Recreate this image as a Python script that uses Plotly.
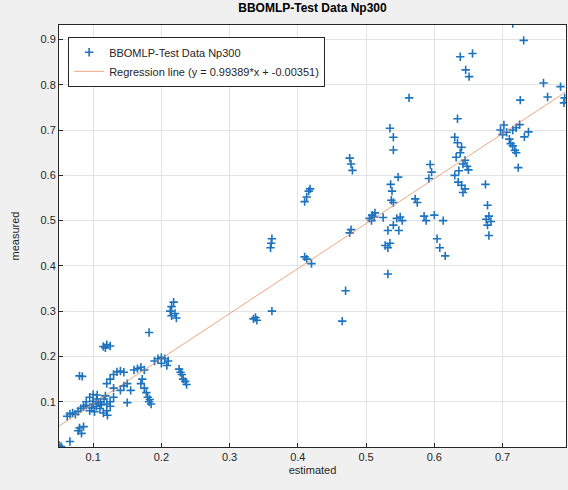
import plotly.graph_objects as go

title_text = "BBOMLP-Test Data Np300"
series_name = "BBOMLP-Test Data Np300"
line_name = "Regression line (y = 0.99389*x + -0.00351)"
slope = 0.99389
intercept = -0.00351

x_ticks = [0.1, 0.2, 0.3, 0.4, 0.5, 0.6, 0.7]
x_tick_labels = ["0.1", "0.2", "0.3", "0.4", "0.5", "0.6", "0.7"]
y_ticks = [0.1, 0.2, 0.3, 0.4, 0.5, 0.6, 0.7, 0.8, 0.9]
y_tick_labels = ["0.1", "0.2", "0.3", "0.4", "0.5", "0.6", "0.7", "0.8", "0.9"]

est_low = [0.050, 0.053, 0.066, 0.080, 0.083, 0.086, 0.078,
           0.062, 0.066, 0.070, 0.074, 0.078, 0.082, 0.086, 0.090,
           0.080, 0.084,
           0.090, 0.095, 0.100, 0.105, 0.100, 0.105, 0.110, 0.095, 0.120, 0.115, 0.120, 0.125,
           0.130, 0.125, 0.100, 0.106, 0.111, 0.116, 0.118, 0.121, 0.098, 0.102, 0.112, 0.108,
           0.115, 0.120, 0.125, 0.118,
           0.120, 0.125, 0.130, 0.135, 0.140, 0.145, 0.130, 0.140, 0.145, 0.150, 0.155, 0.150,
           0.160, 0.165, 0.170, 0.175, 0.170, 0.172, 0.175, 0.178, 0.180, 0.182, 0.185, 0.183,
           0.182,
           0.190, 0.195, 0.200, 0.205, 0.210, 0.200, 0.208,
           0.213, 0.215, 0.218, 0.220, 0.222, 0.215,
           0.226, 0.228, 0.230, 0.232, 0.235, 0.237]
meas_low = [0.004, 0.001, 0.012, 0.042, 0.030, 0.045, 0.036,
            0.068, 0.073, 0.075, 0.072, 0.079, 0.085, 0.089, 0.092,
            0.157, 0.156,
            0.100, 0.110, 0.116, 0.106, 0.095, 0.090, 0.085, 0.080, 0.080, 0.075, 0.095, 0.100,
            0.110, 0.090, 0.101, 0.115, 0.100, 0.106, 0.113, 0.070, 0.086, 0.078, 0.093, 0.098,
            0.222, 0.226, 0.223, 0.219,
            0.140, 0.150, 0.160, 0.166, 0.168, 0.165, 0.130, 0.125, 0.135, 0.140, 0.125, 0.098,
            0.170, 0.173, 0.176, 0.170, 0.140, 0.150, 0.130, 0.120, 0.110, 0.100, 0.095, 0.105,
            0.253,
            0.190, 0.195, 0.198, 0.195, 0.190, 0.185, 0.180,
            0.300, 0.310, 0.320, 0.295, 0.285, 0.290,
            0.172, 0.165, 0.160, 0.150, 0.145, 0.138]

est_mid = [0.335, 0.340, 0.338, 0.362, 0.360, 0.362, 0.361,
           0.410, 0.413, 0.420, 0.410, 0.413, 0.416, 0.418,
           0.465, 0.470, 0.476, 0.478, 0.476, 0.478, 0.480,
           0.505, 0.509, 0.512, 0.508, 0.513,
           0.525, 0.532, 0.528, 0.532, 0.535, 0.532,
           0.535, 0.540, 0.540, 0.536, 0.538, 0.537, 0.540, 0.547,
           0.545, 0.550, 0.553, 0.540, 0.548, 0.563, 0.572, 0.575,
           0.585, 0.588, 0.594, 0.596, 0.592, 0.600, 0.613, 0.604, 0.608, 0.616]
meas_mid = [0.283, 0.280, 0.286, 0.300, 0.440, 0.460, 0.450,
            0.420, 0.415, 0.405, 0.542, 0.552, 0.565, 0.570,
            0.278, 0.345, 0.473, 0.480, 0.638, 0.625, 0.611,
            0.505, 0.512, 0.508, 0.500, 0.517,
            0.507, 0.478, 0.445, 0.440, 0.450, 0.382,
            0.704, 0.684, 0.656, 0.580, 0.565, 0.545, 0.540, 0.596,
            0.505, 0.508, 0.500, 0.490, 0.478, 0.771, 0.548, 0.540,
            0.510, 0.500, 0.624, 0.607, 0.593, 0.512, 0.500, 0.460, 0.440, 0.422]

est_high = [0.634, 0.630, 0.634, 0.640, 0.638, 0.632, 0.645, 0.648, 0.636, 0.642, 0.650,
            0.635, 0.640, 0.645, 0.630, 0.642,
            0.638, 0.656, 0.646, 0.651,
            0.675, 0.678, 0.680, 0.676, 0.683, 0.678, 0.680,
            0.697, 0.702, 0.706, 0.700, 0.710, 0.712, 0.715, 0.718, 0.720, 0.715, 0.720, 0.725,
            0.723, 0.738, 0.732, 0.715, 0.731, 0.726, 0.760, 0.766, 0.785, 0.791, 0.790]
meas_high = [0.725, 0.684, 0.672, 0.662, 0.650, 0.640, 0.633, 0.620, 0.610, 0.625, 0.612,
             0.585, 0.578, 0.570, 0.600, 0.562,
             0.862, 0.869, 0.833, 0.818,
             0.580, 0.534, 0.510, 0.503, 0.498, 0.490, 0.467,
             0.700, 0.711, 0.695, 0.690, 0.680, 0.670, 0.665, 0.655, 0.650, 0.700, 0.705, 0.712,
             0.617, 0.696, 0.685, 0.935, 0.898, 0.766, 0.804, 0.773, 0.796, 0.771, 0.760]

estimated = est_low + est_mid + est_high
measured = meas_low + meas_mid + meas_high

x_range = [0.05, 0.793]
y_range = [0.0, 0.932]
line_x = [x_range[0], x_range[1]]
line_y = [slope * v + intercept for v in line_x]

marker_color = "rgb(30,115,190)"

fig = go.Figure()
fig.add_trace(go.Scatter(
    x=estimated, y=measured, mode="markers", name=series_name,
    marker=dict(symbol="cross-thin", size=6, color=marker_color,
                line=dict(width=1.6, color=marker_color)),
))
fig.add_trace(go.Scatter(
    x=line_x, y=line_y, mode="lines", name=line_name,
    line=dict(color="rgba(230,130,80,0.7)", width=1),
))

font_family = "Liberation Sans, Arial"
axis_common = dict(
    showline=True, mirror=True, linecolor="#262626", linewidth=1,
    ticks="inside", ticklen=4, tickcolor="#262626",
    showgrid=True, gridcolor="#E3E3E3", gridwidth=1, zeroline=False,
    tickfont=dict(family=font_family, size=11, color="#262626"),
)

fig.update_layout(
    width=568, height=490,
    margin=dict(l=59, r=2, t=25, b=43, autoexpand=False),
    paper_bgcolor="#F0F0F0", plot_bgcolor="white",
    title=dict(text="<b>" + title_text + "</b>", x=0.5, xref="paper",
               y=1 - 4 / 490, yref="container", yanchor="top",
               font=dict(family=font_family, size=12, color="black")),
    xaxis=dict(range=x_range, tickvals=x_ticks, ticktext=x_tick_labels,
               title=dict(text="estimated", standoff=4,
                          font=dict(family=font_family, size=11, color="#262626")),
               **axis_common),
    yaxis=dict(range=y_range, tickvals=y_ticks, ticktext=y_tick_labels,
               title=dict(text="measured", standoff=18,
                          font=dict(family=font_family, size=11, color="#262626")),
               **axis_common),
    legend=dict(x=0.018, y=0.972, xanchor="left", yanchor="top",
                bgcolor="white", bordercolor="#262626", borderwidth=1,
                font=dict(family=font_family, size=11, color="#262626")),
    showlegend=True,
)

fig.write_html("out.html", config={"displayModeBar": False},
               post_script="document.body.style.margin='0';")
